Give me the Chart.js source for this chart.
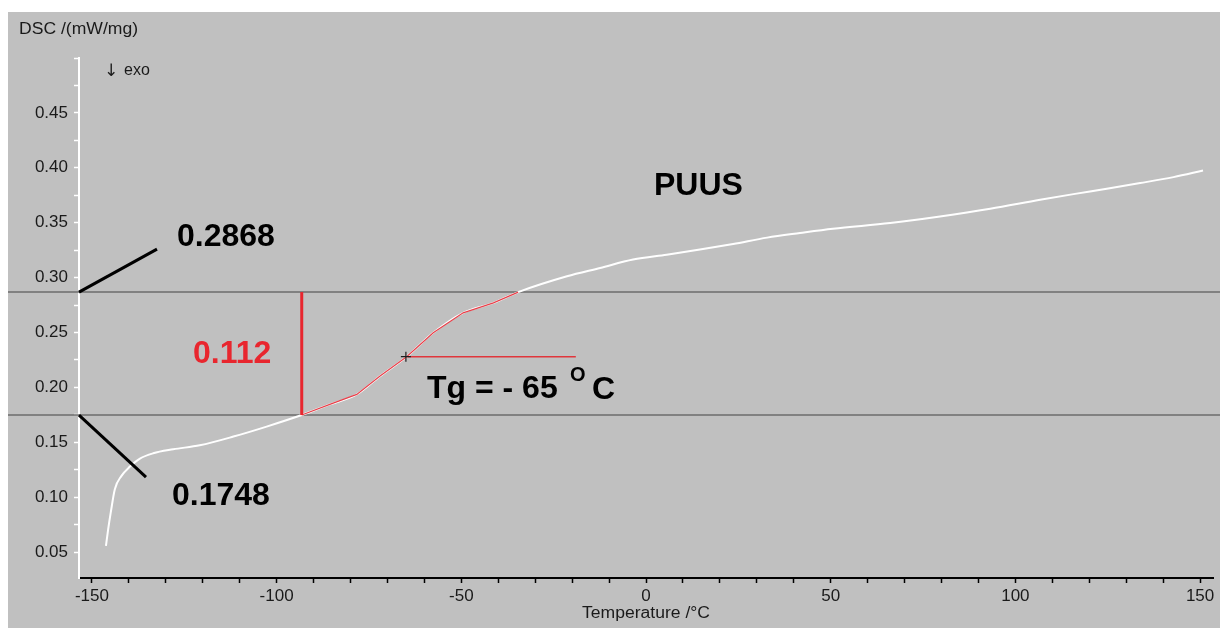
<!DOCTYPE html>
<html>
<head>
<meta charset="utf-8">
<script src="https://cdn.jsdelivr.net/npm/chart.js@4.4.1/dist/chart.umd.min.js"></script>
<style>
  html, body { margin: 0; padding: 0; background: #fff; }
  canvas { display: block; }
</style>
</head>
<body>
<canvas id="dsc" width="1220" height="628"></canvas>
<script>
// ── DSC trace: temperature (°C) vs heat flow (mW/mg) ─────────────────────────
const temperature = [
  -146.2, -145.6, -144.9, -143.8, -142.0, -139.7, -137.0, -133.4, -128.0, -120.8,
  -111.7, -102.7, -93.2, -85.6, -78.3, -72.0, -64.8, -57.6, -49.5, -41.3,
  -34.6, -21.4, -12.4, -3.5, 5.6, 14.6, 23.6, 32.8, 41.7, 50.6,
  66.1, 79.6, 93.2, 106.7, 120.2, 133.8, 142.8, 150.8
];
const heatFlow = [
  0.0557, 0.0709, 0.0861, 0.1073, 0.1194, 0.1279, 0.1352, 0.1400, 0.1436, 0.1473,
  0.1552, 0.1643, 0.1748, 0.1845, 0.1936, 0.2103, 0.2279, 0.2497, 0.2679, 0.2770,
  0.2868, 0.3012, 0.3088, 0.3164, 0.3209, 0.3255, 0.3306, 0.3364, 0.3406, 0.3445,
  0.3497, 0.3557, 0.3627, 0.3709, 0.3785, 0.3861, 0.3915, 0.3975
];

// glass transition evaluation
const onsetTemp   = -93.2;
const endsetTemp  = -34.6;
const stepLevels  = [0.1748, 0.2868];
const stepHeight  = 0.112;
const tgTemp      = -65;
const tgValue     = 0.228;
const tgLineEnd   = -19;
const sampleName  = 'PUUS';

// axis labels
const xMajor = [-150, -100, -50, 0, 50, 100, 150];
const yMajor = [0.05, 0.10, 0.15, 0.20, 0.25, 0.30, 0.35, 0.40, 0.45];
const xTitle = 'Temperature /°C';
const yTitle = 'DSC /(mW/mg)';

const FONT = "'Liberation Sans', Arial, sans-serif";
const RED  = '#e8262e';

const curve   = temperature.map((t, i) => ({ x: t, y: heatFlow[i] }));
const segment = curve.filter(p => p.x >= onsetTemp && p.x <= endsetTemp);

function text(ctx, str, x, y, font, color, width, align) {
  ctx.save();
  ctx.font = font;
  ctx.fillStyle = color;
  ctx.textBaseline = 'alphabetic';
  ctx.textAlign = 'left';
  const w  = ctx.measureText(str).width;
  const sx = width ? width / w : 1;
  const left = align === 'center' ? x - (w * sx) / 2 : x;
  ctx.translate(left, y);
  ctx.scale(sx, 1);
  ctx.fillText(str, 0, 0);
  ctx.restore();
}

function line(ctx, x1, y1, x2, y2, color, width) {
  ctx.save();
  ctx.strokeStyle = color;
  ctx.lineWidth = width;
  ctx.beginPath();
  ctx.moveTo(x1, y1);
  ctx.lineTo(x2, y2);
  ctx.stroke();
  ctx.restore();
}

// ── Plugins ──────────────────────────────────────────────────────────────────

const backdrop = {
  id: 'backdrop',
  beforeDraw(chart) {
    const { ctx, width, height } = chart;
    ctx.save();
    ctx.fillStyle = '#ffffff';
    ctx.fillRect(0, 0, width, height);
    ctx.fillStyle = '#c0c0c0';
    ctx.fillRect(8, 12, width - 8, height - 12);
    ctx.restore();
  }
};

const stepLines = {
  id: 'stepLines',
  beforeDatasetsDraw(chart) {
    const { ctx, width, scales: { x, y } } = chart;
    stepLevels.forEach(v => {
      const py = y.getPixelForValue(v);
      line(ctx, 8, py, width, py, '#6c6c6c', 1.5);
    });
    const ty = y.getPixelForValue(tgValue);
    line(ctx, x.getPixelForValue(tgTemp), ty, x.getPixelForValue(tgLineEnd), ty, '#e0363c', 1.5);
  }
};

const annotations = {
  id: 'annotations',
  afterDatasetsDraw(chart) {
    const { ctx, scales: { x, y } } = chart;
    const lo = y.getPixelForValue(stepLevels[0]);
    const hi = y.getPixelForValue(stepLevels[1]);
    const ox = x.getPixelForValue(onsetTemp);

    // step height marker
    line(ctx, ox, hi, ox, lo, RED, 3);

    // leader lines from the y axis to the level values
    line(ctx, x.left, hi, x.left + 78, hi - 43, '#000', 3);
    line(ctx, x.left, lo, x.left + 67, lo + 62, '#000', 3);

    const bold = `bold 32px ${FONT}`;
    text(ctx, stepLevels[1].toFixed(4), 177, 246, bold, '#000');
    text(ctx, stepLevels[0].toFixed(4), 172, 505, bold, '#000');
    text(ctx, stepHeight.toFixed(3), 193, 363, bold, RED);
    text(ctx, sampleName, 654, 195, bold, '#000');

    text(ctx, `Tg = - ${Math.abs(tgTemp)}`, 427, 398, bold, '#000');
    text(ctx, 'O', 570, 381, `bold 20px ${FONT}`, '#000');
    text(ctx, 'C', 592, 399, bold, '#000');

    // axis titles and exo direction
    text(ctx, yTitle, 19, 34, `16px ${FONT}`, '#1a1a1a', 119);
    text(ctx, '↓', 104, 76, `17px 'DejaVu Sans', sans-serif`, '#1a1a1a');
    text(ctx, 'exo', 124, 75, `16px ${FONT}`, '#1a1a1a');
    text(ctx, xTitle, 646, 618, `16px ${FONT}`, '#1a1a1a', 128, 'center');
  }
};

// ── Chart ────────────────────────────────────────────────────────────────────

new Chart(document.getElementById('dsc'), {
  type: 'line',
  data: {
    datasets: [
      { data: curve, order: 2, borderColor: '#ffffff', borderWidth: 2, pointRadius: 0,
        cubicInterpolationMode: 'monotone' },
      { data: segment, order: 1, borderColor: '#e8404a', borderWidth: 1.2, pointRadius: 0, tension: 0 },
      { data: [{ x: tgTemp, y: tgValue }], order: 0, showLine: false, pointStyle: 'cross',
        pointRadius: 5, borderColor: '#1e1e1e', borderWidth: 1.2 }
    ]
  },
  options: {
    responsive: false,
    animation: false,
    layout: { padding: { top: 58, right: 7, left: 0, bottom: 0 } },
    plugins: { legend: { display: false }, tooltip: { enabled: false } },
    scales: {
      x: {
        type: 'linear',
        min: -153.5,
        max: 153.5,
        afterFit: s => { s.height = 50; },
        border: { color: '#000', width: 2 },
        grid: { drawOnChartArea: false, drawTicks: true, tickLength: 5, tickColor: '#000', tickWidth: 1.5 },
        ticks: {
          stepSize: 10,
          autoSkip: false,
          includeBounds: false,
          maxRotation: 0,
          padding: 3,
          color: '#1a1a1a',
          font: { family: FONT, size: 17 },
          callback: v => xMajor.includes(Math.round(v)) ? String(Math.round(v)) : ''
        }
      },
      y: {
        min: 0.0264,
        max: 0.5,
        afterFit: s => { s.width = 79; },
        border: { color: '#ffffff', width: 2 },
        grid: { drawOnChartArea: false, drawTicks: true, tickLength: 5, tickColor: '#ffffff', tickWidth: 1.5 },
        ticks: {
          stepSize: 0.025,
          autoSkip: false,
          includeBounds: false,
          padding: 6,
          color: '#1a1a1a',
          font: { family: FONT, size: 17 },
          callback: v => {
            const k = Math.round(v * 1000);
            return yMajor.some(m => Math.round(m * 1000) === k) ? (k / 1000).toFixed(2) : '';
          }
        }
      }
    }
  },
  plugins: [backdrop, stepLines, annotations]
});
</script>
</body>
</html>
